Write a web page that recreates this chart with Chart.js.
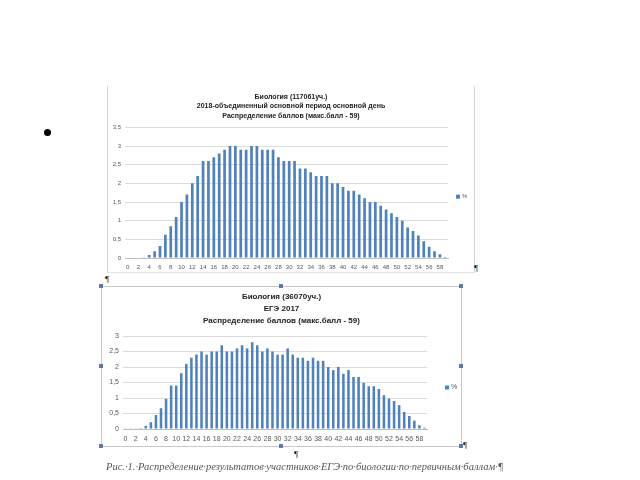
<!DOCTYPE html>
<html lang="ru">
<head>
<meta charset="UTF-8">
<title>Биология — распределение баллов</title>
<script src="https://cdn.jsdelivr.net/npm/chart.js"></script>
<style>
    body {
        margin: 0;
        width: 640px;
        height: 480px;
        background: #fff;
        position: relative;
        overflow: hidden;
        font-family: "Liberation Sans", Arial, sans-serif;
    }
    .bullet {
        position: absolute;
        left: 44px;
        top: 129px;
        width: 7px;
        height: 7px;
        border-radius: 50%;
        background: #000;
    }
    .frame1 {
        position: absolute;
        left: 107px;
        top: 86px;
        width: 366px;
        height: 186px;
        border-left: 1px solid #d4d4d4;
        border-right: 1px solid #d4d4d4;
        border-bottom: 1px solid #e4e4e4;
    }
    .frame2 {
        position: absolute;
        left: 101px;
        top: 286px;
        width: 359px;
        height: 159px;
        border: 1px solid #c8c8c8;
    }
    .handle {
        position: absolute;
        width: 4px;
        height: 4px;
        background: #5f78a8;
    }
    .pil {
        position: absolute;
        font-family: "Liberation Serif", serif;
        font-size: 9px;
        color: #222;
    }
    .caption {
        position: absolute;
        left: 106px;
        top: 461px;
        font-family: "Liberation Serif", serif;
        font-style: italic;
        font-size: 10.5px;
        color: #555;
        white-space: nowrap;
    }
</style>
</head>
<body>
<div class="bullet"></div>

<div class="frame1"><canvas id="chart2018" width="366" height="186"></canvas></div>
<span class="pil" style="left:474px;top:263px;">¶</span>
<span class="pil" style="left:105px;top:274px;">¶</span>

<div class="frame2"><canvas id="chart2017" width="359" height="159"></canvas></div>
<div class="handle" style="left:99px;top:284px;"></div>
<div class="handle" style="left:279px;top:284px;"></div>
<div class="handle" style="left:459px;top:284px;"></div>
<div class="handle" style="left:99px;top:364px;"></div>
<div class="handle" style="left:459px;top:364px;"></div>
<div class="handle" style="left:99px;top:444px;"></div>
<div class="handle" style="left:279px;top:444px;"></div>
<div class="handle" style="left:459px;top:444px;"></div>
<span class="pil" style="left:463px;top:440px;">¶</span>
<span class="pil" style="left:294px;top:449px;">¶</span>

<div class="caption">Рис.·1.·Распределение·результатов·участников·ЕГЭ·по·биологии·по·первичным·баллам·¶</div>

<script>
    // первичные баллы 0..59
    const scores = Array.from({ length: 60 }, (_, i) => String(i));

    // 2018, основной период, % участников
    const pct2018 = [
        0, 0, 0, 0.02, 0.08, 0.18, 0.32, 0.62, 0.85, 1.1,
        1.5, 1.7, 2.0, 2.2, 2.6, 2.6, 2.7, 2.8, 2.9, 3.0,
        3.0, 2.9, 2.9, 3.0, 3.0, 2.9, 2.9, 2.9, 2.7, 2.6,
        2.6, 2.6, 2.4, 2.4, 2.3, 2.2, 2.2, 2.2, 2.0, 2.0,
        1.9, 1.8, 1.8, 1.7, 1.6, 1.5, 1.5, 1.4, 1.3, 1.2,
        1.1, 1.0, 0.82, 0.72, 0.6, 0.45, 0.3, 0.18, 0.1, 0.03
    ];

    // ЕГЭ 2017, % участников
    const pct2017 = [
        0.01, 0.01, 0.01, 0.03, 0.1, 0.22, 0.45, 0.67, 0.97, 1.4,
        1.4, 1.8, 2.1, 2.3, 2.4, 2.5, 2.4, 2.5, 2.5, 2.7,
        2.5, 2.5, 2.6, 2.7, 2.6, 2.8, 2.7, 2.5, 2.6, 2.5,
        2.4, 2.4, 2.6, 2.4, 2.3, 2.3, 2.2, 2.3, 2.2, 2.2,
        2.0, 1.9, 2.0, 1.78, 1.9, 1.68, 1.68, 1.49, 1.38, 1.38,
        1.29, 1.09, 0.98, 0.9, 0.77, 0.55, 0.42, 0.27, 0.12, 0.04
    ];

    const title2018 = [
        'Биология (117061уч.)',
        '2018-объединенный основной период основной день',
        'Распределение баллов (макс.балл - 59)'
    ];
    const title2017 = [
        'Биология (36070уч.)',
        'ЕГЭ 2017',
        'Распределение баллов (макс.балл - 59)'
    ];

    const barColor = '#4f81bd';
    const fontFamily = '"Liberation Sans", Arial, sans-serif';

    // легенда как в Excel: маркер и подпись справа от области графика, по её центру
    const sideLegend = {
        id: 'sideLegend',
        afterDraw(chart, args, o) {
            const ctx = chart.ctx;
            const area = chart.chartArea;
            const ds = chart.data.datasets[0];
            const x = area.right + o.dx;
            const y = (area.top + area.bottom) / 2 + o.dy;
            ctx.save();
            ctx.fillStyle = ds.backgroundColor;
            ctx.fillRect(x, y - o.box / 2, o.box, o.box);
            ctx.fillStyle = '#595959';
            ctx.font = o.size + 'px ' + fontFamily;
            ctx.textBaseline = 'middle';
            ctx.fillText(ds.label, x + o.box + 2, y);
            ctx.restore();
        }
    };

    function makeChart(id, values, title, opt) {
        const ctx = document.getElementById(id).getContext('2d');
        return new Chart(ctx, {
            type: 'bar',
            data: {
                labels: scores,
                datasets: [{
                    label: '%',
                    data: values,
                    backgroundColor: barColor,
                    barPercentage: 0.5,
                    categoryPercentage: 1
                }]
            },
            options: {
                responsive: false,
                animation: false,
                layout: { padding: 0 },
                scales: {
                    x: {
                        grid: { display: false, drawTicks: false },
                        border: { color: '#bfbfbf' },
                        ticks: {
                            autoSkip: false,
                            maxRotation: 0,
                            padding: opt.xPad,
                            color: '#595959',
                            font: { family: fontFamily, size: opt.tickSize },
                            callback: function (value, index) {
                                return index % 2 === 0 ? this.getLabelForValue(value) : '';
                            }
                        },
                        afterFit: function (scale) { scale.height = opt.xHeight; }
                    },
                    y: {
                        min: 0,
                        max: opt.yMax,
                        grid: { color: '#dcdcdc', drawTicks: false },
                        border: { display: false },
                        ticks: {
                            stepSize: 0.5,
                            padding: 4,
                            color: '#595959',
                            font: { family: fontFamily, size: opt.tickSize },
                            callback: function (value) {
                                return String(value).replace('.', ',');
                            }
                        },
                        afterFit: function (scale) { scale.width = opt.yWidth; }
                    },
                    // пустая ось справа оставляет место под легенду, не сдвигая заголовок
                    legendSpace: {
                        position: 'right',
                        grid: { display: false, drawTicks: false },
                        border: { display: false },
                        ticks: { display: false },
                        afterFit: function (scale) { scale.width = opt.padRight; }
                    }
                },
                plugins: {
                    tooltip: { enabled: false },
                    legend: { display: false },
                    title: {
                        display: true,
                        text: title,
                        color: '#222',
                        font: { family: fontFamily, size: opt.titleSize, weight: 'bold', lineHeight: opt.titleLine },
                        padding: opt.titlePad
                    },
                    sideLegend: opt.legend
                }
            },
            plugins: [sideLegend]
        });
    }

    makeChart('chart2018', pct2018, title2018, {
        yMax: 3.5,
        padRight: 26,
        xPad: 6,
        xHeight: 14,
        yWidth: 17,
        tickSize: 6,
        titleSize: 7,
        titleLine: 1.35,
        titlePad: { top: 6, bottom: 7 },
        legend: { dx: 8, dy: 4, box: 4, size: 6 }
    });

    makeChart('chart2017', pct2017, title2017, {
        yMax: 3,
        padRight: 34,
        xPad: 6,
        xHeight: 17,
        yWidth: 21,
        tickSize: 7,
        titleSize: 8,
        titleLine: 1.5,
        titlePad: { top: 4, bottom: 9 },
        legend: { dx: 18, dy: 5, box: 4, size: 7 }
    });
</script>
</body>
</html>
